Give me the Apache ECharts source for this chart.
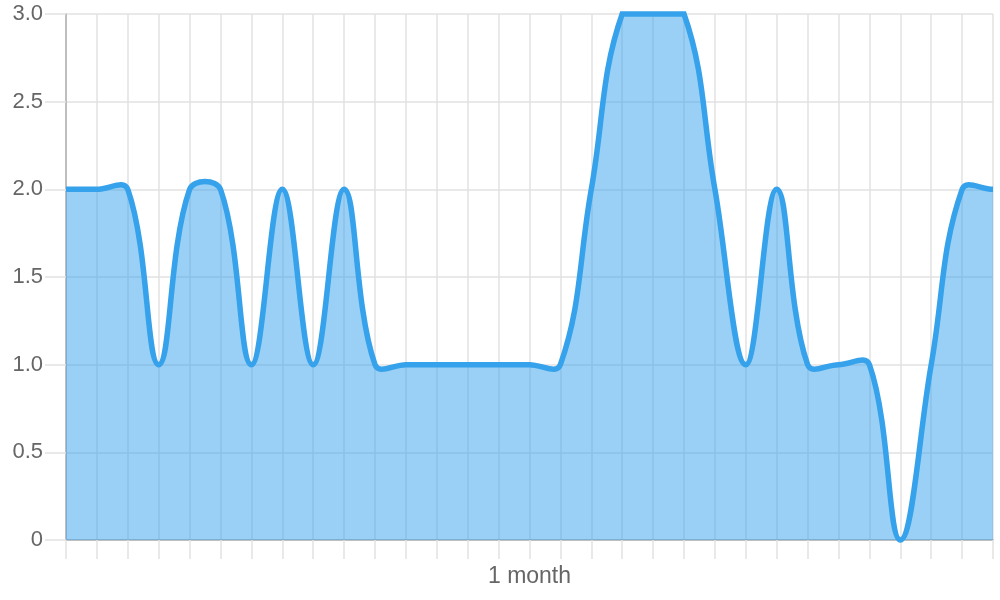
<!DOCTYPE html>
<html>
<head>
<meta charset="utf-8">
<script src="https://cdn.jsdelivr.net/npm/echarts@6/dist/echarts.min.js"></script>
<style>html,body{margin:0;padding:0;background:#fff}#c{width:1000px;height:600px}</style>
</head>
<body>
<div id="c"></div>
<script>
var categories = ['d1','d2','d3','d4','d5','d6','d7','d8','d9','d10','d11','d12','d13','d14','d15','d16','d17','d18','d19','d20','d21','d22','d23','d24','d25','d26','d27','d28','d29','d30','d31'];
var values = [2,2,2,1,2,2,1,2,1,2,1,1,1,1,1,1,1,2,3,3,3,2,1,2,1,1,1,0,1,2,2];
var xTickLabels = {15: '1 month'};
var yTicks = [0, 0.5, 1.0, 1.5, 2.0, 2.5, 3.0];

var TENSION = 0.4;

function renderCurve(params, api) {
  if (params.dataIndex !== 0) return null;
  var cs = params.coordSys;
  var pts = values.map(function (v, i) {
    var c = api.coord([i, v]);
    return {x: c[0], y: c[1]};
  });
  var cps = pts.map(function (p, i) {
    var prev = pts[i - 1] || p, next = pts[i + 1] || p;
    var d01 = Math.hypot(p.x - prev.x, p.y - prev.y);
    var d12 = Math.hypot(next.x - p.x, next.y - p.y);
    var s01 = d01 / (d01 + d12), s12 = d12 / (d01 + d12);
    if (isNaN(s01)) s01 = 0;
    if (isNaN(s12)) s12 = 0;
    var fa = TENSION * s01, fb = TENSION * s12;
    var clampX = function (x) { return Math.max(Math.min(x, cs.x + cs.width), cs.x); };
    var clampY = function (y) { return Math.max(Math.min(y, cs.y + cs.height), cs.y); };
    return {
      px: clampX(p.x - fa * (next.x - prev.x)), py: clampY(p.y - fa * (next.y - prev.y)),
      nx: clampX(p.x + fb * (next.x - prev.x)), ny: clampY(p.y + fb * (next.y - prev.y))
    };
  });
  var d = 'M' + pts[0].x + ' ' + pts[0].y;
  for (var i = 1; i < pts.length; i++) {
    d += ' C' + cps[i - 1].nx + ' ' + cps[i - 1].ny + ' ' + cps[i].px + ' ' + cps[i].py + ' ' + pts[i].x + ' ' + pts[i].y;
  }
  var base = api.coord([0, 0])[1];
  var last = pts[pts.length - 1];
  var area = d + ' L' + last.x + ' ' + base + ' L' + pts[0].x + ' ' + base + ' Z';
  return {
    type: 'group',
    children: [
      {type: 'path', shape: {pathData: area}, style: {fill: 'rgba(54,162,235,0.5)', stroke: 'none'}},
      {type: 'path', shape: {pathData: d}, style: {fill: 'none', stroke: '#36a2eb', lineWidth: 5.5, lineJoin: 'miter'}}
    ]
  };
}

var chart = echarts.init(document.getElementById('c'));
chart.setOption({
  animation: false,
  grid: {left: 66, right: 7, top: 14, bottom: 60},
  xAxis: {
    type: 'category',
    data: categories,
    boundaryGap: false,
    axisLine: {show: true, lineStyle: {color: '#b0b0b0', width: 1.5}},
    axisTick: {show: true, interval: 0, length: 19, lineStyle: {color: '#e2e2e2', width: 1.5}},
    splitLine: {show: true, interval: 0, lineStyle: {color: '#e2e2e2', width: 1.5}},
    axisLabel: {
      interval: 0, margin: 25, color: '#666', fontSize: 23,
      fontFamily: 'Liberation Sans, Arial, sans-serif',
      formatter: function (v, i) { return xTickLabels[i] || ''; }
    }
  },
  yAxis: {
    type: 'value', min: 0, max: 3, interval: 0.5,
    axisLine: {show: true, lineStyle: {color: '#b0b0b0', width: 1.5}},
    axisTick: {show: true, length: 21, lineStyle: {color: '#e2e2e2', width: 1.5}},
    splitLine: {show: true, lineStyle: {color: '#e2e2e2', width: 1.5}},
    axisLabel: {
      margin: 23, color: '#666', fontSize: 22,
      fontFamily: 'Liberation Sans, Arial, sans-serif',
      formatter: function (v) {
        for (var i = 0; i < yTicks.length; i++) {
          if (Math.abs(yTicks[i] - v) < 1e-9) return v === 0 ? '0' : yTicks[i].toFixed(1);
        }
        return '';
      }
    }
  },
  series: [{
    type: 'custom',
    renderItem: renderCurve,
    clip: false,
    encode: {x: 0, y: 1},
    data: values.map(function (v, i) { return [i, v]; })
  }]
});
</script>
</body>
</html>
